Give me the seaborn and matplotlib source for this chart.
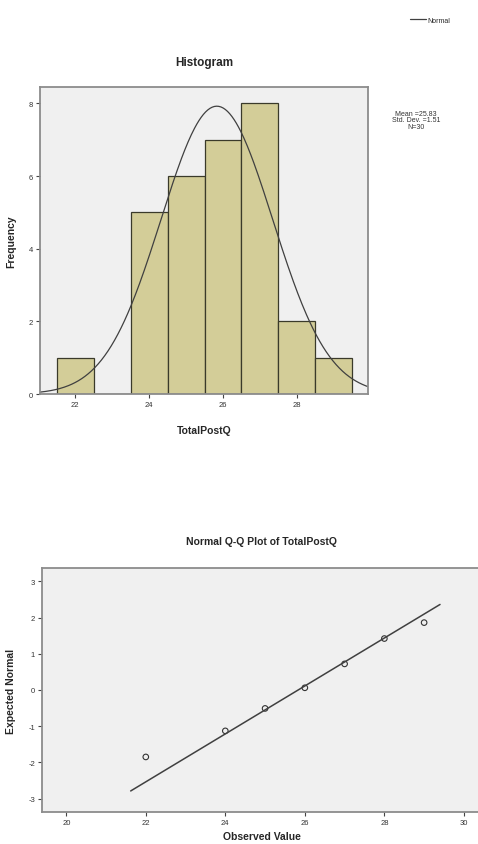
import numpy as np
import pandas as pd
import seaborn as sns
import matplotlib
matplotlib.use('Agg')
import matplotlib.pyplot as plt

# Histogram counts (bin width 1)
scores = [22, 24, 25, 26, 27, 28, 29]
counts = [1, 5, 6, 7, 8, 2, 1]

# Q-Q plot points (observed value, expected normal)
qq_observed = [22, 24, 25, 26, 27, 28, 29]
qq_expected = [-1.85, -1.13, -0.51, 0.06, 0.72, 1.42, 1.86]

hist_xticks = [22, 24, 26, 28]
hist_yticks = [0, 2, 4, 6, 8]
qq_xticks = [20, 22, 24, 26, 28, 30]
qq_yticks = [3, 2, 1, 0, -1, -2, -3]

df = pd.DataFrame({'TotalPostQ': scores, 'count': counts})
n = int(df['count'].sum())
mean = (df['TotalPostQ'] * df['count']).sum() / n
sd = np.sqrt(((df['TotalPostQ'] - mean) ** 2 * df['count']).sum() / (n - 1))

sns.set_style('white')
plt.rcParams['font.family'] = ['Liberation Sans', 'DejaVu Sans']
plt.rcParams['axes.unicode_minus'] = False

bar_color = '#d3cd98'
bg = '#f0f0f0'
frame = '#8c8c8c'

fig = plt.figure(figsize=(4.78, 8.45), dpi=100)

# --- Histogram ---
ax1 = fig.add_axes([0.0837, 0.5325, 0.686, 0.3633])
ax1.set_facecolor(bg)
sns.histplot(data=df, x='TotalPostQ', weights='count', binwidth=1,
             binrange=(21.5, 29.5), color=bar_color, alpha=1,
             edgecolor='#3a3a2a', linewidth=0.9, ax=ax1)
xs = np.linspace(21.05, 29.92, 300)
curve = n * np.exp(-0.5 * ((xs - mean) / sd) ** 2) / (sd * np.sqrt(2 * np.pi))
ax1.plot(xs, curve, color='#404040', linewidth=0.9, label='Normal')
ax1.set_xlim(21.05, 29.92)
ax1.set_ylim(0, 8.45)
ax1.set_xticks(hist_xticks)
ax1.set_yticks(hist_yticks)
ax1.set_xlabel('TotalPostQ', fontsize=7.5, fontweight='bold', labelpad=12)
ax1.set_ylabel('Frequency', fontsize=7.5, fontweight='bold', labelpad=9)
ax1.set_title('Histogram', fontsize=8.5, fontweight='bold', pad=16)

fig.legend(handles=ax1.get_lines(), labels=['Normal'], loc='center',
           bbox_to_anchor=(0.9, 0.975), fontsize=5, frameon=False,
           handlelength=2.2, handletextpad=0.2)
fig.text(0.87, 0.857, 'Mean =%.2f\nStd. Dev. =%.2f\nN=%d' % (mean, sd, n),
         ha='center', va='center', fontsize=5, linespacing=0.95,
         color='#333333')

# --- Normal Q-Q plot ---
ax2 = fig.add_axes([0.0879, 0.0379, 0.92, 0.2888])
ax2.set_facecolor(bg)
line_x = np.array([21.62, 29.4])
ax2.plot(line_x, (line_x - mean) / sd, color='#404040', linewidth=1.1)
sns.scatterplot(x=qq_observed, y=qq_expected, ax=ax2, marker='o', s=16,
                facecolor='none', edgecolor='#333333', linewidth=0.8)
ax2.set_xlim(19.39, 30.45)
ax2.set_ylim(-3.37, 3.37)
ax2.set_xticks(qq_xticks)
ax2.set_yticks(qq_yticks)
ax2.set_xlabel('Observed Value', fontsize=7.5, fontweight='bold', labelpad=4)
ax2.set_ylabel('Expected Normal', fontsize=7.5, fontweight='bold', labelpad=9)
ax2.set_title('Normal Q-Q Plot of TotalPostQ', fontsize=7.5,
              fontweight='bold', pad=17)

for ax in (ax1, ax2):
    for side in ax.spines.values():
        side.set_color(frame)
        side.set_linewidth(1.3)
    ax.tick_params(axis='both', direction='out', length=3, width=0.8,
                   color='#444444', labelsize=5.5, labelcolor='#333333',
                   left=True, bottom=True, pad=2)

fig.savefig('out.png', dpi=100)
